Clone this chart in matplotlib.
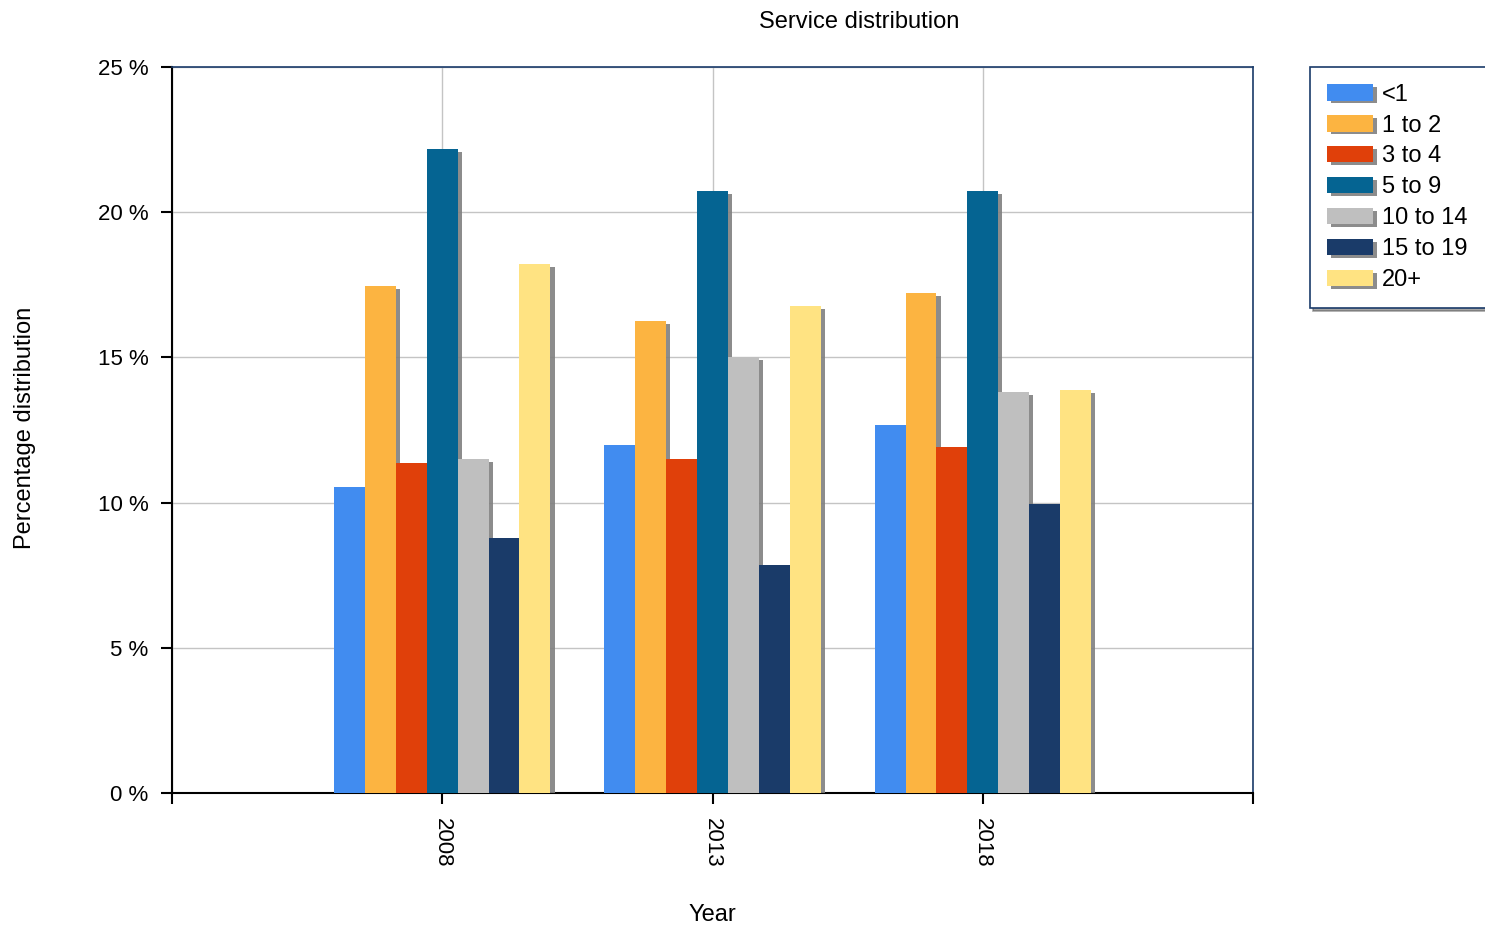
import numpy as np
import matplotlib
matplotlib.use('Agg')
from matplotlib import pyplot as plt
from matplotlib import patheffects as pe

years = ['2008', '2013', '2018']
groups = ['<1', '1 to 2', '3 to 4', '5 to 9', '10 to 14', '15 to 19', '20+']
values = {
    '<1':       [10.55, 11.98, 12.67],
    '1 to 2':   [17.46, 16.25, 17.22],
    '3 to 4':   [11.36, 11.50, 11.91],
    '5 to 9':   [22.18, 20.73, 20.73],
    '10 to 14': [11.50, 15.00, 13.80],
    '15 to 19': [8.78, 7.85, 9.95],
    '20+':      [18.20, 16.77, 13.88],
}
colors = ['#418CF0', '#FCB441', '#E0400A', '#056492', '#BFBFBF', '#1A3B69', '#FFE382']

plt.rcParams['font.family'] = ['Liberation Sans', 'DejaVu Sans']

fig = plt.figure(figsize=(14.85, 9.31), dpi=100)
ax = fig.add_axes([172/1485, 1-793/931, (1253-172)/1485, (793-67)/931])

shadow = [pe.SimplePatchShadow(offset=(3, -2), shadow_rgbFace='#808080', alpha=0.9), pe.Normal()]

x = np.arange(1, len(years) + 1)
width = 0.8 / len(groups)
for i, g in enumerate(groups):
    pos = x - 0.4 + width * (i + 0.5)
    bars = ax.bar(pos, values[g], width, color=colors[i], label=g, zorder=3)
    for b in bars:
        b.set_path_effects(shadow)

ax.set_xlim(0, 4)
ax.set_ylim(0, 25)
ax.set_xticks([0, 1, 2, 3, 4])
ax.set_xticklabels(['', '2008', '2013', '2018', ''], rotation=270, fontsize=16)
ax.set_yticks([0, 5, 10, 15, 20, 25])
ax.set_yticklabels(['0 %', '5 %', '10 %', '15 %', '20 %', '25 %'], fontsize=16)
ax.tick_params(length=8, width=1.5, color='black', pad=9)
ax.tick_params(axis='x', pad=10)
ax.grid(True, color='#C4C4C4', linewidth=1, zorder=0)
ax.set_axisbelow(True)

for s in ['left', 'bottom']:
    ax.spines[s].set_color('black')
    ax.spines[s].set_linewidth(1.5)
for s in ['top', 'right']:
    ax.spines[s].set_color('#1A3B69')
    ax.spines[s].set_linewidth(1.2)

fig.text(859/1485, 1-22/931, 'Service distribution', ha='center', va='center', fontsize=17)
fig.text(712/1485, 1-915/931, 'Year', ha='center', va='center', fontsize=17)
fig.text(25/1485, 1-428/931, 'Percentage distribution', ha='center', va='center',
         rotation=90, fontsize=17)

leg = ax.legend(loc='upper left', bbox_to_anchor=(1310/1485, 1-297/931, 200/1485, 230/931),
                bbox_transform=fig.transFigure, borderaxespad=0, mode='expand', fontsize=17,
                handlelength=1.95, handleheight=0.7, handletextpad=0.4,
                labelspacing=0.38, borderpad=0.7, fancybox=False, shadow=True,
                frameon=True, framealpha=1)
leg.get_frame().set_edgecolor('#1A3B69')
leg.get_frame().set_linewidth(1.2)
for h in leg.legend_handles:
    h.set_path_effects(shadow)

fig.savefig('out.png', dpi=100)
